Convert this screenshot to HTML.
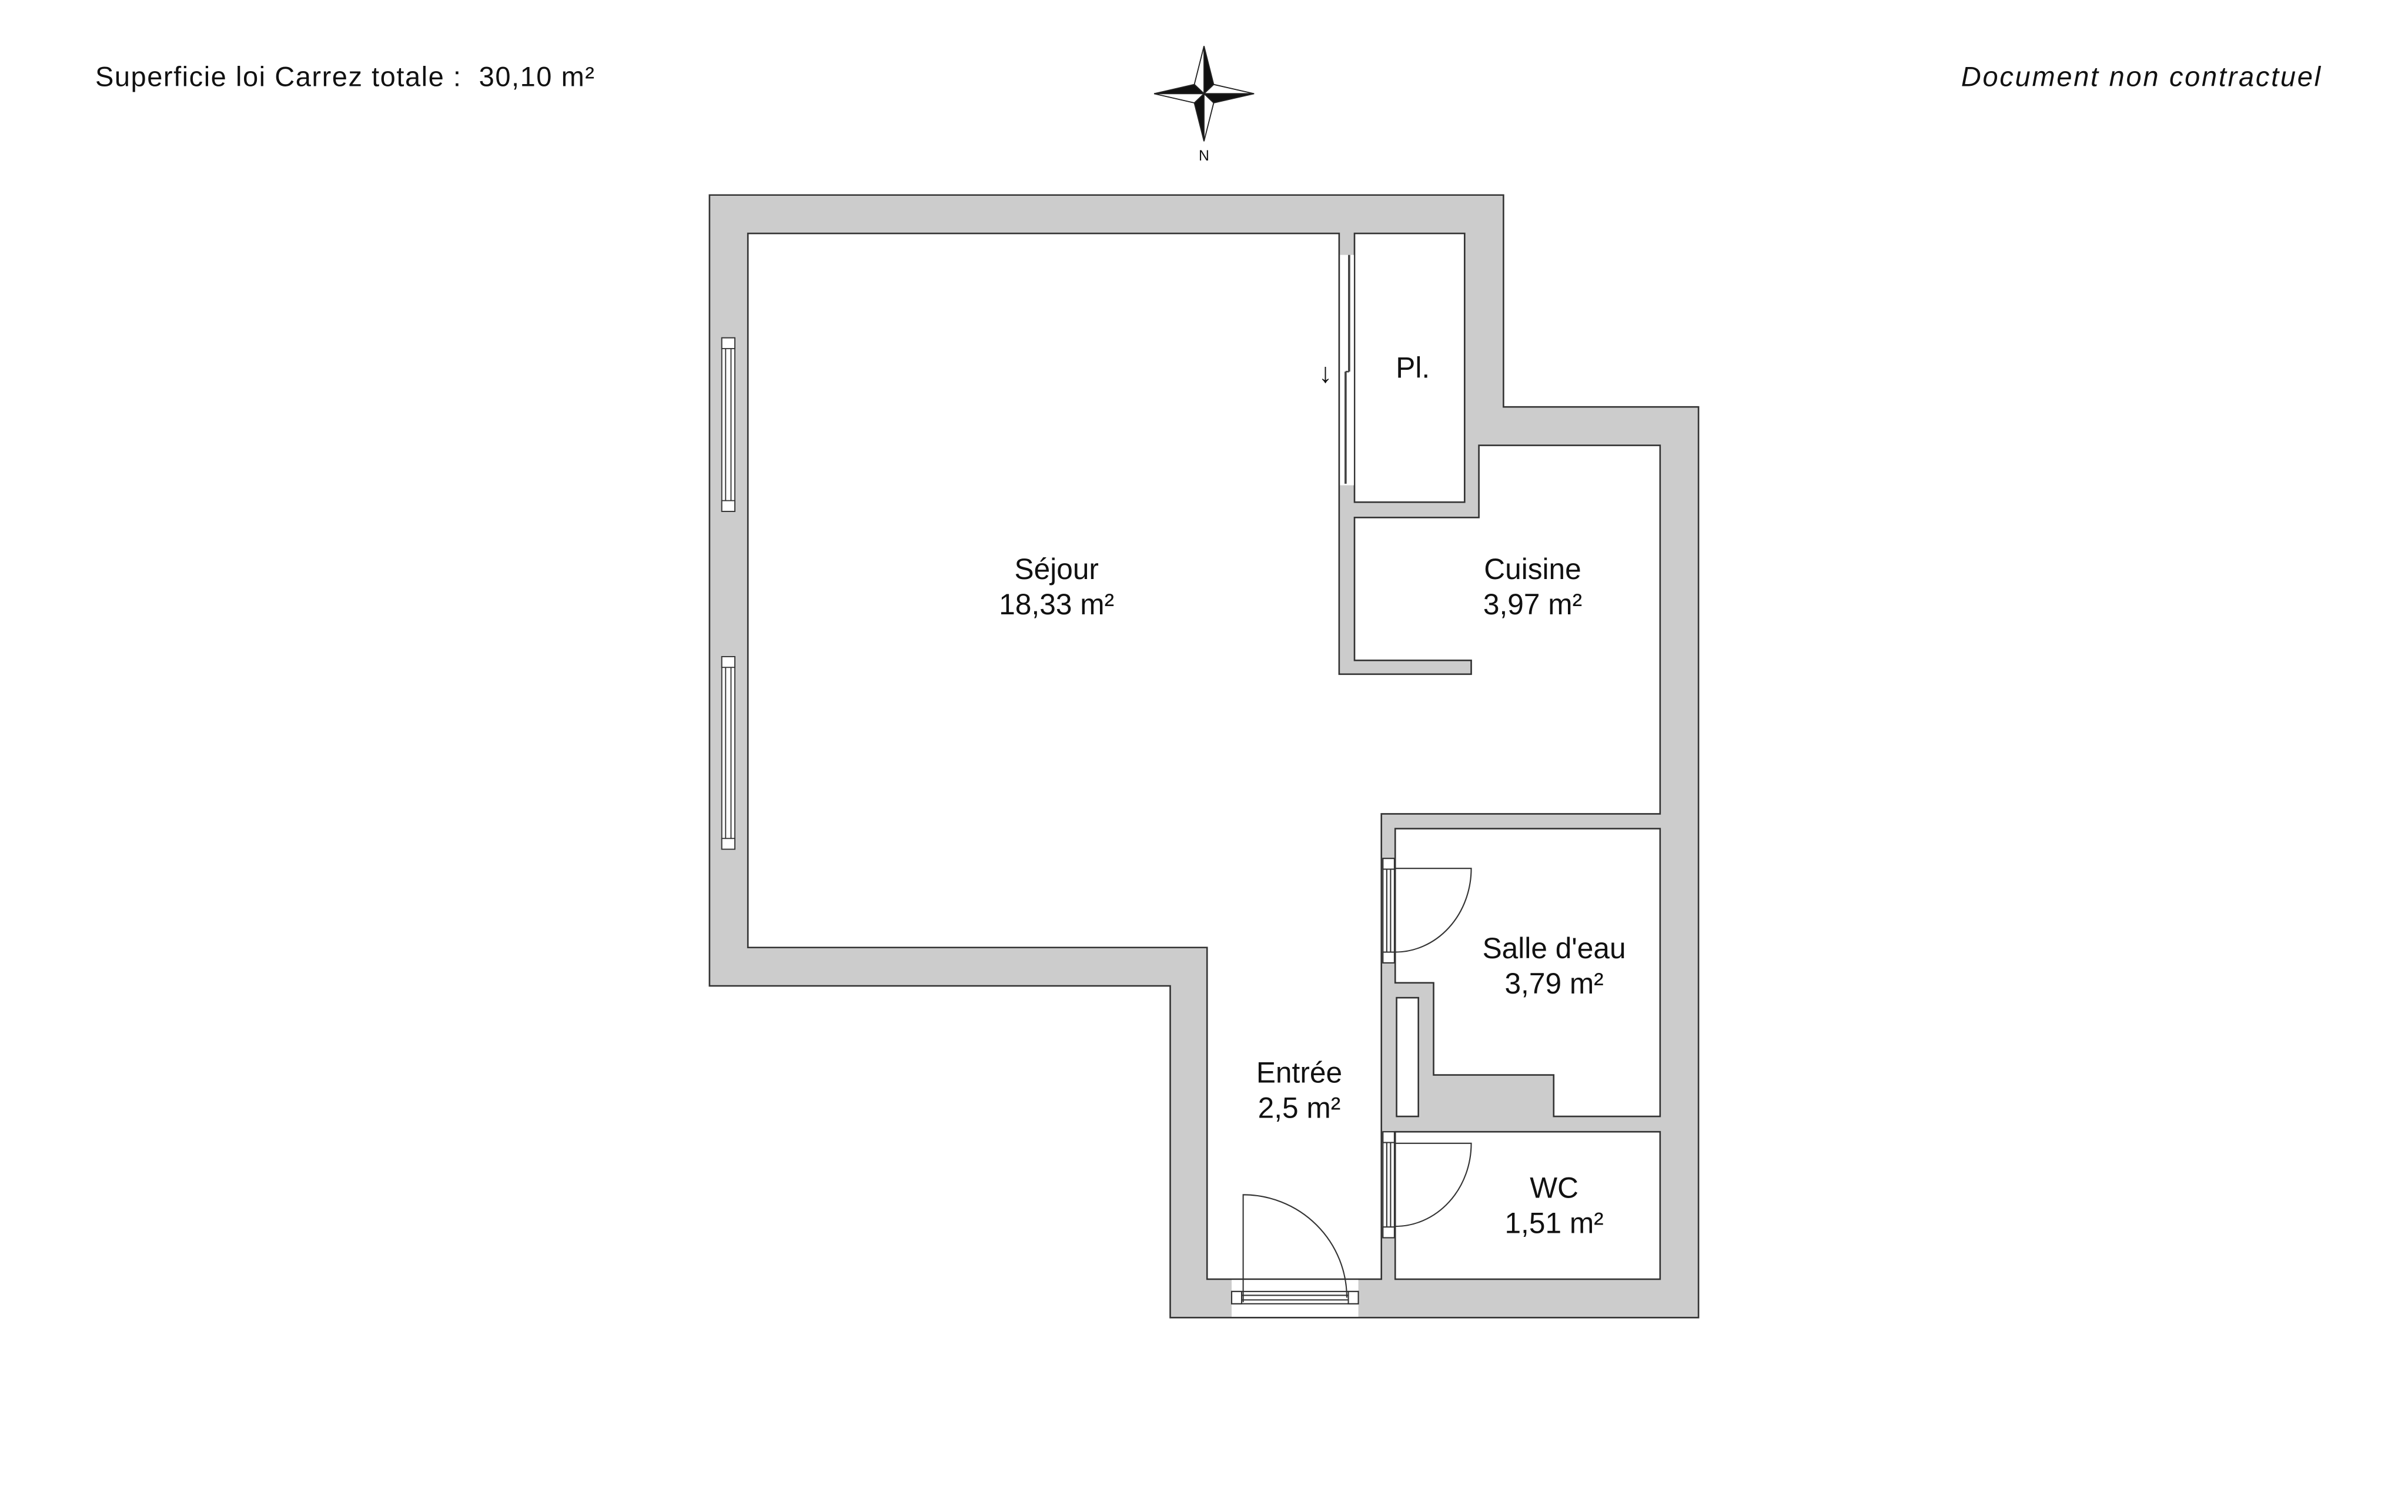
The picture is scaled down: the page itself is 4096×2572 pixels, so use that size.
<!DOCTYPE html>
<html><head><meta charset="utf-8"><style>
html,body{margin:0;padding:0;background:#fff;}
svg{display:block;}
text{font-family:"Liberation Sans",sans-serif;fill:#111;}
</style></head><body>
<svg width="4096" height="2572" viewBox="0 0 1568 984.6" preserveAspectRatio="none" xmlns="http://www.w3.org/2000/svg">
<rect x="0" y="0" width="1568" height="984.6" fill="#fff"/>
<text x="62" y="56" font-size="18" textLength="325" lengthAdjust="spacing" xml:space="preserve">Superficie loi Carrez totale :  30,10 m²</text>
<text x="1277" y="56" font-size="18" font-style="italic" textLength="234" lengthAdjust="spacing">Document non contractuel</text>
<!-- compass -->
<g stroke="#222" stroke-width="0.7" stroke-linejoin="miter">
<polygon points="784,30 790.3,55 784,61" fill="#111"/>
<polygon points="784,30 777.7,55 784,61" fill="#fff"/>
<polygon points="816.6,61 790.3,67 784,61" fill="#111"/>
<polygon points="816.6,61 790.3,55 784,61" fill="#fff"/>
<polygon points="784,92 777.7,67 784,61" fill="#111"/>
<polygon points="784,92 790.3,67 784,61" fill="#fff"/>
<polygon points="751.5,61 777.7,55 784,61" fill="#111"/>
<polygon points="751.5,61 777.7,67 784,61" fill="#fff"/>
</g>
<text x="784" y="104.5" font-size="9.5" text-anchor="middle">N</text>
<!-- walls -->
<polygon points="462,127 979,127 979,265 1106,265 1106,858 762,858 762,642 462,642" fill="#cccccc" stroke="#333" stroke-width="1"/>
<polygon points="487,152 872,152 872,439 958,439 958,430 882,430 882,337 963,337 963,290 1081,290 1081,530 899.5,530 899.5,833 786,833 786,617 487,617" fill="#fff" stroke="#333" stroke-width="1"/>
<rect x="882" y="152" width="71.7" height="175" fill="#fff" stroke="#333" stroke-width="1"/>
<rect x="872.6" y="166" width="9" height="150" fill="#fff"/>
<line x1="878.5" y1="166" x2="878.5" y2="242" stroke="#444" stroke-width="1.4"/>
<line x1="876.2" y1="242" x2="876.2" y2="315" stroke="#444" stroke-width="1.4"/>
<line x1="876.2" y1="242" x2="878.5" y2="242" stroke="#444" stroke-width="1"/>
<text x="863" y="249" font-size="18" text-anchor="middle">↓</text>
<polygon points="908.5,539.6 1081,539.6 1081,727 1011.7,727 1011.7,700 933.5,700 933.5,640 908.5,640" fill="#fff" stroke="#333" stroke-width="1"/>
<rect x="909.4" y="649.7" width="14.2" height="77.3" fill="#fff" stroke="#333" stroke-width="1"/>
<rect x="908.5" y="737" width="172.5" height="96" fill="#fff" stroke="#333" stroke-width="1"/>
<g fill="#fff" stroke="#333" stroke-width="0.7">
<rect x="470" y="220" width="8.5" height="113"/>
<line x1="472.5" y1="227" x2="472.5" y2="326"/><line x1="476" y1="227" x2="476" y2="326"/>
<rect x="470" y="220" width="8.5" height="7"/><rect x="470" y="326" width="8.5" height="7"/>
<rect x="470" y="427.6" width="8.5" height="125.4"/>
<line x1="472.5" y1="434" x2="472.5" y2="546"/><line x1="476" y1="434" x2="476" y2="546"/>
<rect x="470" y="427.6" width="8.5" height="7"/><rect x="470" y="546" width="8.5" height="7"/>
</g>
<g fill="#fff" stroke="#333" stroke-width="0.8">
<rect x="900.5" y="559" width="7.5" height="68"/>
<line x1="903" y1="566" x2="903" y2="620"/><line x1="905.5" y1="566" x2="905.5" y2="620"/>
<rect x="900.5" y="559" width="7.5" height="7"/><rect x="900.5" y="620" width="7.5" height="7"/>
<path d="M908.5,565.5 L958,565.5 A49.5,54.5 0 0 1 908.5,620" fill="none"/>
<rect x="900.5" y="737" width="7.5" height="69"/>
<line x1="903" y1="744" x2="903" y2="799"/><line x1="905.5" y1="744" x2="905.5" y2="799"/>
<rect x="900.5" y="737" width="7.5" height="7"/><rect x="900.5" y="799" width="7.5" height="7"/>
<path d="M908.5,744.5 L958,744.5 A49.5,54 0 0 1 908.5,798.6" fill="none"/>
</g>
<rect x="802" y="833.5" width="82.5" height="24" fill="#fff"/>
<g fill="#fff" stroke="#333" stroke-width="0.8">
<rect x="802" y="841" width="82.5" height="8"/>
<line x1="808" y1="843.5" x2="878" y2="843.5"/><line x1="808" y1="846.5" x2="878" y2="846.5"/>
<rect x="802" y="841" width="6.5" height="8"/><rect x="878" y="841" width="6.5" height="8"/>
<path d="M809.5,848 L809.5,778 A67.5,67 0 0 1 877,845" fill="none"/>
</g>
<g font-size="19" text-anchor="middle">
<text x="688" y="377">Séjour</text><text x="688" y="400">18,33 m²</text>
<text x="998" y="377">Cuisine</text><text x="998" y="400">3,97 m²</text>
<text x="920" y="246">Pl.</text>
<text x="1012" y="624">Salle d'eau</text><text x="1012" y="647">3,79 m²</text>
<text x="846" y="705">Entrée</text><text x="846" y="728">2,5 m²</text>
<text x="1012" y="780">WC</text><text x="1012" y="803">1,51 m²</text>
</g>
</svg>
</body></html>
